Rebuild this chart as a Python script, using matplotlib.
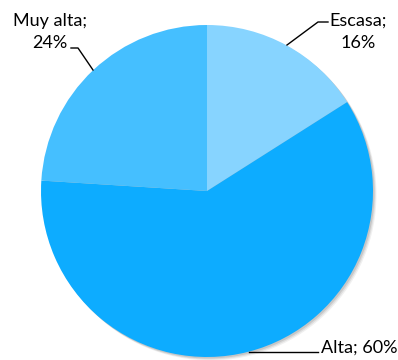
import matplotlib.pyplot as plt
from matplotlib.patches import Circle

labels = ["Escasa", "Alta", "Muy alta"]
values = [16, 60, 24]
colors = ["#87d4ff", "#0dacff", "#45bfff"]

W, H = 398, 360
cx, cy, r = 207, 360 - 191, 166

fig = plt.figure(figsize=(W / 100, H / 100), dpi=100)
ax = fig.add_axes([0, 0, 1, 1])

# soft shadow
for i, a in enumerate([0.10, 0.08, 0.06]):
    ax.add_patch(Circle((cx + 1.5 + i, cy - 1.5 - i), r, color="#000000",
                        alpha=a, lw=0, zorder=0))

ax.pie(values, colors=colors, startangle=90, counterclock=False,
       center=(cx, cy), radius=r, frame=True,
       wedgeprops=dict(linewidth=0, zorder=1))
ax.set_xlim(0, W)
ax.set_ylim(0, H)
ax.set_aspect("equal")
ax.axis("off")

font = dict(family="Lato", fontsize=13, color="#000000")

# Escasa
ax.plot([287, 318, 328], [H - 45, H - 22, H - 22], color="black", lw=1)
ax.text(358, H - 32, f"{labels[0]};\n{values[0]}%", ha="center", va="center",
        linespacing=1.45, **font)
# Muy alta
ax.plot([93, 78, 71], [H - 70, H - 48, H - 48], color="black", lw=1)
ax.text(50, H - 32, f"{labels[2]};\n{values[2]}%", ha="center", va="center",
        linespacing=1.45, **font)
# Alta
ax.plot([249, 318], [H - 352, H - 352], color="black", lw=1)
ax.text(321, H - 348, f"{labels[1]}; {values[1]}%", ha="left", va="center", **font)

fig.savefig("out.png", dpi=100, facecolor="white")
